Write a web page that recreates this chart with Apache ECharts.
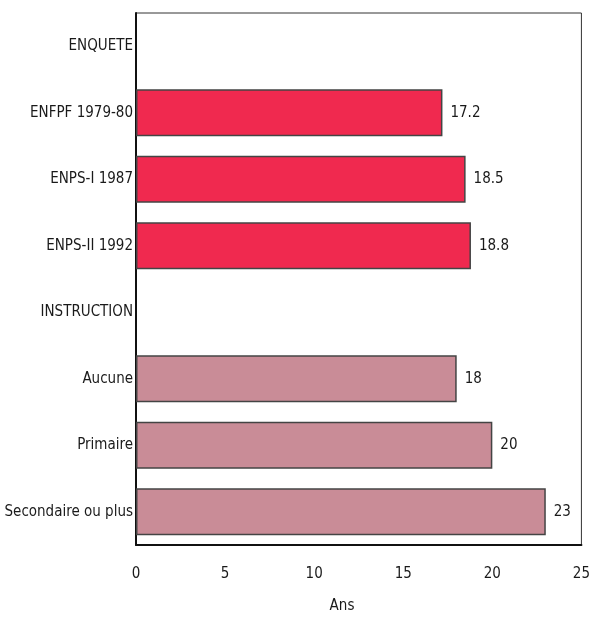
<!DOCTYPE html>
<html>
<head>
<meta charset="utf-8">
<script src="https://cdn.jsdelivr.net/npm/echarts@6/dist/echarts.min.js"></script>
<style>html,body{margin:0;padding:0;background:#fff}#c{width:593px;height:617px}</style>
</head>
<body>
<div id="c"></div>
<script>
var categories = ['ENQUETE','ENFPF 1979-80','ENPS-I 1987','ENPS-II 1992','INSTRUCTION','Aucune','Primaire','Secondaire ou plus'];
var values = [null, 17.2, 18.5, 18.8, null, 18, 20, 23];
var groups = ['head','enquete','enquete','enquete','head','instr','instr','instr'];
var xTicks = [0, 5, 10, 15, 20, 25];
var groupColors = { enquete: '#F0294F', instr: '#C98C97', head: '#ffffff' };
var font = '"DejaVu Sans Condensed", "Roboto Condensed", "Liberation Sans Narrow", "Arial Narrow", Roboto, sans-serif';

var seriesData = values.map(function (v, i) {
  return { value: v, itemStyle: { color: groupColors[groups[i]] } };
});

var chart = echarts.init(document.getElementById('c'));
chart.setOption({
  animation: false,
  backgroundColor: '#ffffff',
  title: {
    text: 'Ans', left: 337, top: 594, textAlign: 'center',
    textStyle: { fontFamily: font, fontSize: 15, fontWeight: 'normal', color: '#1a1a1a' }
  },
  grid: { left: 136, right: 7, top: 13, bottom: 72, show: true, borderColor: '#333', borderWidth: 1, containLabel: false },
  xAxis: {
    type: 'value', min: xTicks[0], max: xTicks[xTicks.length - 1], interval: 5,
    axisLine: { show: true, lineStyle: { color: '#111', width: 2 } },
    axisTick: { show: false },
    splitLine: { show: false },
    axisLabel: { margin: 22, fontFamily: font, fontSize: 15, color: '#1a1a1a' }
  },
  yAxis: {
    type: 'category', data: categories, inverse: true,
    axisLine: { show: true, lineStyle: { color: '#111', width: 2 } },
    axisTick: { show: false },
    axisLabel: { margin: 3, fontFamily: font, fontSize: 15, color: '#1a1a1a' }
  },
  series: [{
    type: 'bar', data: seriesData, barWidth: 47,
    itemStyle: { borderColor: '#444', borderWidth: 1.5 },
    label: {
      show: true, position: 'right', distance: 8,
      fontFamily: font, fontSize: 15, color: '#1a1a1a',
      formatter: function (p) { return p.value == null ? '' : String(p.value); }
    }
  }]
});
</script>
</body>
</html>
